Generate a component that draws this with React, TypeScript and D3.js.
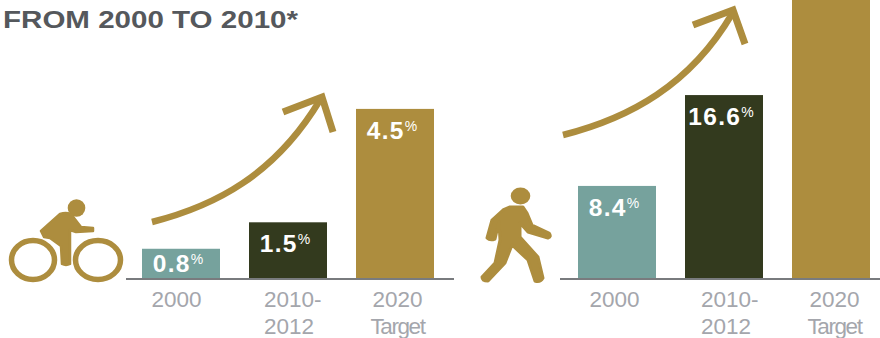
import React from "react";
import * as d3 from "d3";

const title = "FROM 2000 TO 2010*";
const periods = ["2000", "2010-2012", "2020 Target"];
const periodLines = [["2000"], ["2010-", "2012"], ["2020", "Target"]];
const cycling = [0.8, 1.5, 4.5];
const walking = [8.4, 16.6, 30];
const walkingLabels = ["8.4", "16.6", ""];
const cyclingLabels = ["0.8", "1.5", "4.5"];
const barColors = ["#76a29d", "#333a1e", "#ad8d3e"];
const GOLD = "#ad8d3e";
const FONT = "'Liberation Sans', Arial, sans-serif";
const BASE = 279;

type PanelProps = {
  values: number[];
  labels: string[];
  x0: number;
  perUnit: number;
  axis: [number, number];
  arrow: string;
  head: string;
  tickShift: number[];
};

function Panel({ values, labels, x0, perUnit, axis, arrow, head, tickShift }: PanelProps) {
  const x = d3.scaleBand<string>().domain(periods).range([x0, x0 + 292]).paddingInner(29 / 107).paddingOuter(0);
  const y = d3.scaleLinear().domain([0, 1]).range([BASE, BASE - perUnit]);
  return (
    <g>
      <path d={arrow} fill="none" stroke={GOLD} strokeWidth={6.5} />
      <path d={head} fill="none" stroke={GOLD} strokeWidth={7} />
      {periods.map((p, i) => (
        <rect key={p} x={x(p)} y={y(values[i])} width={x.bandwidth()} height={BASE - y(values[i])} fill={barColors[i]} />
      ))}
      <line x1={axis[0]} x2={axis[1]} y1={BASE} y2={BASE} stroke="#797b7e" strokeWidth={2} />
      {periods.map((p, i) => {
        const cx = x(p)! + x.bandwidth() / 2;
        // The shortest bar is too low to hold its figure at the usual offset from the top
        const labelY = values[i] < 1 ? BASE - 7 : y(values[i]) + 30;
        return (
          <g key={p}>
            {labels[i] && (
              <text x={cx - 3} y={labelY} textAnchor="middle" fill="#fff" fontFamily={FONT} fontWeight={700} fontSize={24.5} letterSpacing={1.3}>
                {labels[i]}
                <tspan fontSize={14} fontWeight={400} dy={-8} letterSpacing={0}>%</tspan>
              </text>
            )}
            {periodLines[i].map((t, j) => (
              <text
                key={t}
                x={cx + tickShift[i]}
                y={306.5 + j * 27.5}
                textAnchor={i === 1 ? "start" : "middle"}
                fill="#a4a6ac"
                fontFamily={FONT}
                fontSize={22.5}
                letterSpacing={t === "Target" ? -1.4 : 0}
              >
                {t}
              </text>
            ))}
          </g>
        );
      })}
    </g>
  );
}

// Cyclist pictogram: two wheels, a rider's torso, arm, leg and head
function Cyclist() {
  return (
    <g>
      <ellipse cx={33} cy={260} rx={21.5} ry={19.5} fill="none" stroke={GOLD} strokeWidth={5.5} />
      <ellipse cx={98} cy={260} rx={22.5} ry={19.5} fill="none" stroke={GOLD} strokeWidth={5.5} />
      <circle cx={76.5} cy={208} r={8.8} fill={GOLD} />
      <path
        d="M41 231 L60 214 Q70 211 74 218 L81 227 L93 228 L93 231 L76 232 L70 230 L70 264 Q66 266 62 264 L61 246 L50 238 L44 237 Z"
        fill={GOLD}
        stroke={GOLD}
        strokeLinejoin="round"
        strokeWidth={2.5}
      />
    </g>
  );
}

// Walker pictogram: head, torso, swinging arms and striding legs
function Walker() {
  return (
    <g>
      <ellipse cx={520.5} cy={196} rx={9.8} ry={8.5} fill={GOLD} />
      <path
        d="M503 210 L510 207 L523 207 L527 213 L532 225 L549 233 Q552 237 548 238 L528 232 L520 223 L520 237 L538 257 L543 278 Q540 283 535 281 L528 260 L512 245 L505 263 L488 281 Q482 281 482 277 L495 263 L500 240 L499 222 L495 239 Q490 241 487 238 L492 220 Z"
        fill={GOLD}
        stroke={GOLD}
        strokeLinejoin="round"
        strokeWidth={3}
      />
    </g>
  );
}

export default function App() {
  return (
    <svg width={880} height={338} viewBox="0 0 880 338" style={{ position: "absolute", left: 0, top: 0, background: "#fff" }}>
      <text x={3} y={27.5} fontFamily={FONT} fontWeight={700} fontSize={24.5} fill="#55585c" textLength={295} lengthAdjust="spacingAndGlyphs">{title}</text>
      <Cyclist />
      <Walker />
      <Panel
        values={cycling}
        labels={cyclingLabels}
        x0={142}
        perUnit={37.8}
        axis={[126, 454]}
        arrow="M152 222 C215 206 275 175 320 100"
        head="M283 112 L322 97 L333 132"
        tickShift={[-4.5, -24, 2.5]}
      />
      <Panel
        values={walking}
        labels={walkingLabels}
        x0={578}
        perUnit={11.08}
        axis={[560, 880]}
        arrow="M563 135 C630 118 690 85 732 14"
        head="M693 25 L733 10 L745 44"
        tickShift={[-2.5, -23, 3.5]}
      />
    </svg>
  );
}
